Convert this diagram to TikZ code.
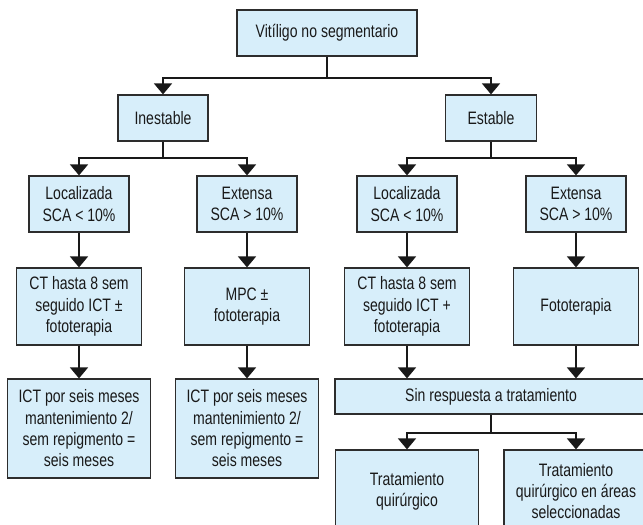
\documentclass[tikz,border=0pt]{standalone}
\usepackage{fontspec}
\setmainfont{Liberation Sans}[FakeStretch=0.78]
\usetikzlibrary{arrows.meta}
\definecolor{celeste}{RGB}{215,238,250}
\definecolor{borde}{RGB}{45,45,45}
\begin{document}
\begin{tikzpicture}[x=1pt,y=-1pt]
        \tikzstyle{caja}=[rectangle, draw=borde, fill=celeste, line width=1.2pt, inner sep=0pt, align=center, text=black!90, font=\fontsize{18}{21.3}\selectfont]
        \tikzstyle{linea}=[draw=black!90, line width=1.6pt]
        \tikzstyle{flecha}=[linea, -{Triangle[width=18pt,length=11pt]}]

        \useasboundingbox (0,0) rectangle (643,525);
        \clip (0,0) rectangle (643,525);

        \node[caja, minimum width=180pt, minimum height=46pt] (vit) at (327,33) {Vitíligo no segmentario};

        \node[caja, minimum width=90pt, minimum height=46pt] (ines) at (163,118) {Inestable};
        \node[caja, minimum width=91pt, minimum height=46pt] (est)  at (491,118) {Estable};

        \node[caja, minimum width=100pt, minimum height=56pt] (locI) at (79,204)  {Localizada\\SCA \textless{} 10\%};
        \node[caja, minimum width=100pt, minimum height=56pt] (extI) at (247,204) {Extensa\\SCA \textgreater{} 10\%};
        \node[caja, minimum width=100pt, minimum height=56pt] (locE) at (407,204) {Localizada\\SCA \textless{} 10\%};
        \node[caja, minimum width=100pt, minimum height=56pt] (extE) at (576,204) {Extensa\\SCA \textgreater{} 10\%};

        \node[caja, minimum width=125pt, minimum height=77pt] (ctI)  at (79,306.5)  {CT hasta 8 sem\\seguido ICT ±\\fototerapia};
        \node[caja, minimum width=125pt, minimum height=77pt] (mpc)  at (247,306.5) {MPC ±\\fototerapia};
        \node[caja, minimum width=125pt, minimum height=77pt] (ctE)  at (407,306.5) {CT hasta 8 sem\\seguido ICT +\\fototerapia};
        \node[caja, minimum width=125pt, minimum height=77pt] (foto) at (576,306.5) {Fototerapia};

        \node[caja, minimum width=143pt, minimum height=99pt] (ictA) at (79,428.5)  {ICT por seis meses\\mantenimiento 2/\\sem repigmento =\\seis meses};
        \node[caja, minimum width=143pt, minimum height=99pt] (ictB) at (247,428.5) {ICT por seis meses\\mantenimiento 2/\\sem repigmento =\\seis meses};
        \node[caja, minimum width=312pt, minimum height=35pt] (sinr) at (491,396.5) {Sin respuesta a tratamiento};

        \node[caja, minimum width=143pt, minimum height=82pt] (quir)    at (407,491) {Tratamiento\\quirúrgico};
        \node[caja, minimum width=144pt, minimum height=82pt] (quirsel) at (576,491) {Tratamiento\\quirúrgico en áreas\\seleccionadas};

        % ramas
        \coordinate (r1) at (327,78);
        \coordinate (r2) at (163,158);
        \coordinate (r3) at (491,158);
        \coordinate (r4) at (491,433);

        \draw[linea] (vit) -- (r1);
        \draw[flecha] (r1) -| (ines);
        \draw[flecha] (r1) -| (est);

        \draw[linea] (ines) -- (r2);
        \draw[flecha] (r2) -| (locI);
        \draw[flecha] (r2) -| (extI);
        \draw[linea] (est) -- (r3);
        \draw[flecha] (r3) -| (locE);
        \draw[flecha] (r3) -| (extE);

        \draw[flecha] (locI) -- (ctI);
        \draw[flecha] (extI) -- (mpc);
        \draw[flecha] (locE) -- (ctE);
        \draw[flecha] (extE) -- (foto);

        \draw[flecha] (ctI) -- (ictA);
        \draw[flecha] (mpc) -- (ictB);
        \draw[flecha] (ctE) -- (ctE |- sinr.north);
        \draw[flecha] (foto) -- (foto |- sinr.north);

        \draw[linea] (sinr) -- (r4);
        \draw[flecha] (r4) -| (quir);
        \draw[flecha] (r4) -| (quirsel);
    \end{tikzpicture}
\end{document}
